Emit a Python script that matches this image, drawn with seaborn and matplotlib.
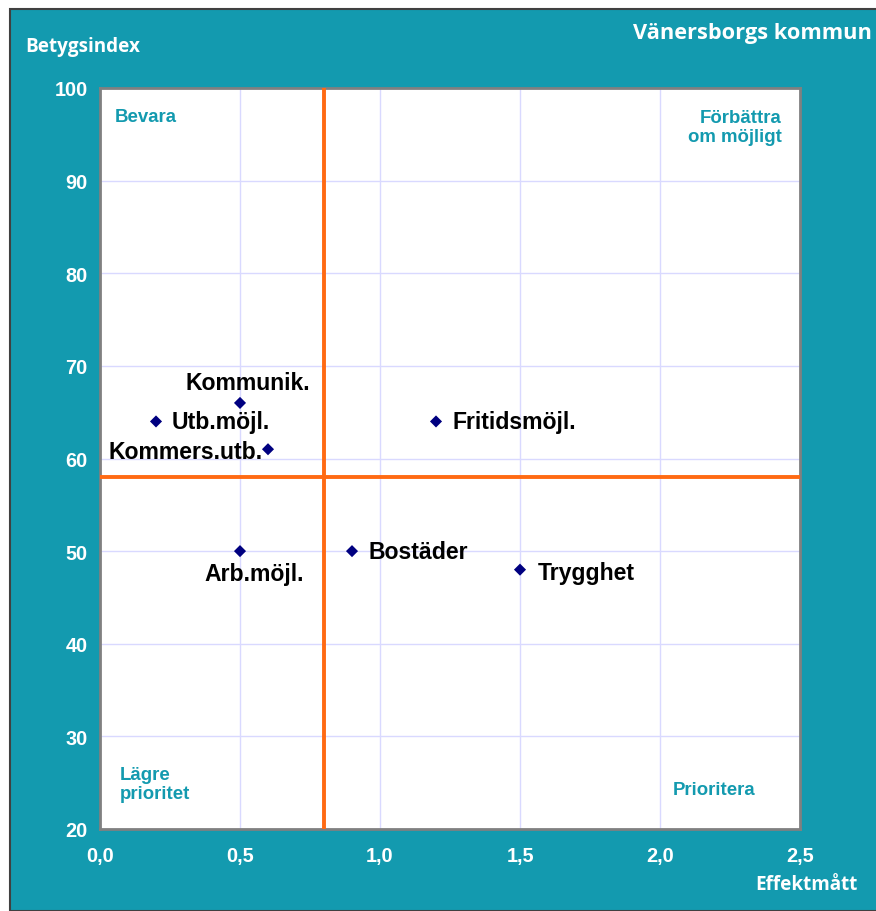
import pandas as pd
import matplotlib.pyplot as plt
import matplotlib.patches as patches
from matplotlib.ticker import FuncFormatter
import seaborn as sns

# data
omraden = ['Kommunik.', 'Utb.möjl.', 'Kommers.utb.', 'Fritidsmöjl.',
           'Arb.möjl.', 'Bostäder', 'Trygghet']
effekt = [0.5, 0.2, 0.6, 1.2, 0.5, 0.9, 1.5]
betyg = [66, 64, 61, 64, 50, 50, 48]
x_mitt = 0.8
y_mitt = 58

df = pd.DataFrame({'omrade': omraden, 'effekt': effekt, 'betyg': betyg})

teal = '#139AAF'
sns.set_style('white')
plt.rcParams['font.family'] = ['Liberation Sans', 'DejaVu Sans']

fig = plt.figure(figsize=(8.76, 9.12), dpi=100)
fig.patch.set_facecolor('white')
# teal frame behind the plot
fig.patches.append(patches.Rectangle((10 / 876, 0), 1, 1 - 10 / 912,
                                     transform=fig.transFigure,
                                     facecolor=teal, edgecolor='#404040',
                                     linewidth=1.5, zorder=-10))

ax = fig.add_axes([100 / 876, 1 - 830 / 912, 700 / 876, 741 / 912])
ax.set_facecolor('white')

sns.scatterplot(data=df, x='effekt', y='betyg', marker='D', s=38,
                color='#000080', edgecolor='none', ax=ax, zorder=5)

ax.axvline(x_mitt, color='#FF6A13', lw=2.8, zorder=4)
ax.axhline(y_mitt, color='#FF6A13', lw=2.8, zorder=4)

ax.set_xlim(0, 2.5)
ax.set_ylim(20, 100)
ax.set_xticks([0, 0.5, 1.0, 1.5, 2.0, 2.5])
ax.set_yticks(range(20, 101, 10))
ax.xaxis.set_major_formatter(FuncFormatter(lambda v, p: f'{v:.1f}'.replace('.', ',')))
ax.grid(True, color='#D9D9FF', lw=1, zorder=1)
ax.set_axisbelow(True)
for s in ax.spines.values():
    s.set_color('#808080')
    s.set_linewidth(2)
ax.tick_params(axis='both', colors='white', labelsize=14.3, length=3,
               width=1, color='#808080', direction='out')
ax.tick_params(axis='x', pad=9)
ax.tick_params(axis='y', pad=6)
for lab in ax.get_xticklabels() + ax.get_yticklabels():
    lab.set_fontweight('bold')
ax.set_xlabel('')
ax.set_ylabel('')

# point labels (offset in pixels)
offsets = {
    'Kommunik.': (8, 20, 'center'),
    'Utb.möjl.': (16, 0, 'left'),
    'Kommers.utb.': (-5, -2, 'right'),
    'Fritidsmöjl.': (17, 0, 'left'),
    'Arb.möjl.': (14, -22, 'center'),
    'Bostäder': (17, 0, 'left'),
    'Trygghet': (18, -3, 'left'),
}
for o, xv, yv in zip(omraden, effekt, betyg):
    dx, dy, ha = offsets[o]
    ax.annotate(o, (xv, yv), xytext=(dx * 0.72, dy * 0.72),
                textcoords='offset points', ha=ha, va='center',
                fontsize=16.6, fontweight='bold', color='black', zorder=6)

# quadrant labels
qkw = dict(transform=ax.transAxes, color=teal, fontsize=13.4, fontweight='bold')
ax.text(0.021, 0.962, 'Bevara', ha='left', va='center', **qkw)
ax.text(0.974, 0.947, 'Förbättra\nom möjligt', ha='right', va='center',
        multialignment='right', linespacing=1.15, **qkw)
ax.text(0.028, 0.061, 'Lägre\nprioritet', ha='left', va='center',
        linespacing=1.15, **qkw)
ax.text(0.877, 0.053, 'Prioritera', ha='center', va='center', **qkw)

# frame texts
tkw = dict(color='white', fontweight='bold', family=['Open Sans', 'DejaVu Sans'])
fig.text(25 / 876, 1 - 47 / 912, 'Betygsindex', ha='left', va='center',
         fontsize=13.6, **tkw)
fig.text(872 / 876, 1 - 33 / 912, 'Vänersborgs kommun', ha='right',
         va='center', fontsize=15.7, **tkw)
fig.text(858 / 876, 1 - 885 / 912, 'Effektmått', ha='right', va='center',
         fontsize=13.6, **tkw)

fig.savefig('out.png', dpi=100, facecolor=fig.get_facecolor())
